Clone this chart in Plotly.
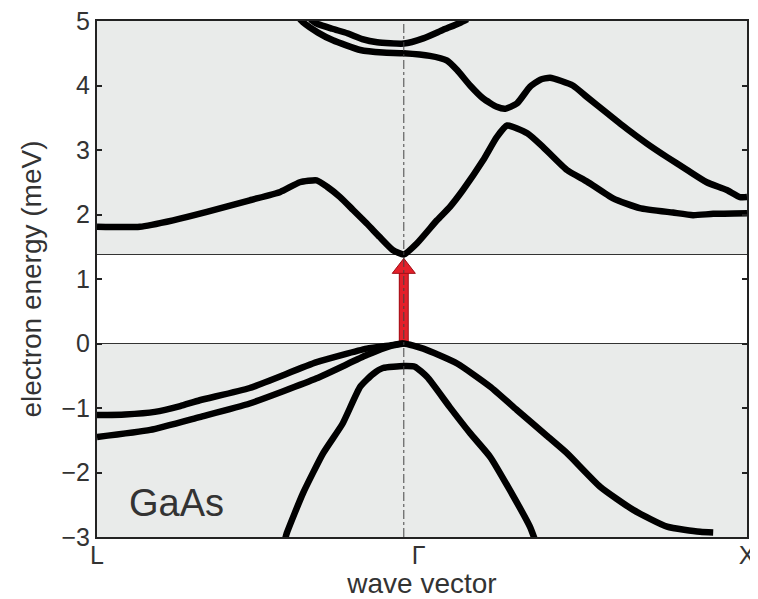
import plotly.graph_objects as go

# ---------------- data ----------------
# k: position along the L -> Gamma -> X path (fraction of the drawn path)
K_GAMMA = 0.472
X_TICKVALS = [0.0, 0.495, 1.0]
X_TICKTEXT = ["L", "\u0393", "X"]
Y_TICKVALS = [-3, -2, -1, 0, 1, 2, 3, 4, 5]
E_GAP = 1.38          # conduction band minimum
E_VBM = 0.0           # valence band maximum
ARROW_TIP = 1.32

c1_k = [0, 0.066, 0.117, 0.169, 0.235, 0.282, 0.312, 0.338, 0.354, 0.374, 0.394, 0.415,
        0.435, 0.455, 0.472, 0.492, 0.523, 0.543, 0.563, 0.594, 0.615, 0.631, 0.662, 0.686,
        0.723, 0.754, 0.794, 0.835, 0.886, 0.917, 0.948, 1.0]
c1_e = [1.81, 1.81, 1.91, 2.04, 2.22, 2.35, 2.50, 2.53, 2.43, 2.27, 2.07, 1.86,
        1.65, 1.45, 1.38, 1.55, 1.91, 2.12, 2.38, 2.84, 3.20, 3.38, 3.26, 3.05,
        2.69, 2.51, 2.25, 2.10, 2.03, 1.99, 2.01, 2.02]

c2_k = [0.312, 0.317, 0.340, 0.363, 0.405, 0.440, 0.472, 0.512, 0.538, 0.554, 0.574, 0.594,
        0.615, 0.628, 0.646, 0.666, 0.682, 0.697, 0.732, 0.754, 0.785, 0.815, 0.846, 0.877,
        0.908, 0.938, 0.969, 0.989, 1.0]
c2_e = [5.03, 4.98, 4.82, 4.70, 4.55, 4.51, 4.50, 4.46, 4.39, 4.24, 4.00, 3.80,
        3.67, 3.64, 3.72, 3.98, 4.09, 4.12, 4.00, 3.82, 3.57, 3.33, 3.10, 2.89,
        2.69, 2.50, 2.38, 2.27, 2.27]

c3_k = [0.328, 0.338, 0.362, 0.385, 0.408, 0.431, 0.472, 0.502, 0.532, 0.558, 0.570]
c3_e = [5.03, 4.96, 4.88, 4.81, 4.72, 4.67, 4.65, 4.73, 4.86, 4.97, 5.03]

hh_k = [0, 0.043, 0.089, 0.128, 0.158, 0.235, 0.338, 0.415, 0.451, 0.472, 0.502, 0.554,
        0.605, 0.646, 0.692, 0.723, 0.774, 0.825, 0.877, 0.928, 0.948]
hh_e = [-1.11, -1.10, -1.06, -0.97, -0.88, -0.69, -0.29, -0.08, -0.03, 0.0, -0.08, -0.31,
        -0.67, -1.03, -1.43, -1.70, -2.22, -2.58, -2.84, -2.92, -2.93]

lh_k = [0, 0.082, 0.158, 0.235, 0.338, 0.415, 0.451, 0.472]
lh_e = [-1.45, -1.34, -1.14, -0.93, -0.54, -0.18, -0.04, 0.0]

so_k = [0.289, 0.292, 0.317, 0.348, 0.378, 0.405, 0.425, 0.440, 0.472, 0.489, 0.508, 0.543,
        0.574, 0.605, 0.635, 0.666, 0.674]
so_e = [-3.05, -2.94, -2.32, -1.70, -1.24, -0.67, -0.47, -0.38, -0.35, -0.36, -0.52, -0.99,
        -1.39, -1.76, -2.27, -2.84, -3.05]

bands = [(c1_k, c1_e), (c2_k, c2_e), (c3_k, c3_e), (hh_k, hh_e), (lh_k, lh_e), (so_k, so_e)]

# ---------------- styling ----------------
FONT = "Liberation Sans, Arial, sans-serif"
TXT = "#333333"
BAND_FILL = "#e9ebea"
Y_MIN, Y_MAX = -3, 5
# the page body adds an 8px offset, so the figure is sized to fit inside it
W, H = 750, 591
M_L, M_R, M_T, M_B = 89, 11, 13, 62
px_per_unit = (H - M_T - M_B) / (Y_MAX - Y_MIN)
HEAD_SIZE = 20
head_center = ARROW_TIP - (HEAD_SIZE / 2) / px_per_unit
head_base = ARROW_TIP - (HEAD_SIZE * 0.75) / px_per_unit

fig = go.Figure()

# red excitation arrow (shaft + head)
fig.add_trace(go.Scatter(x=[K_GAMMA, K_GAMMA], y=[E_VBM, head_base + 0.05], mode="lines",
                         line=dict(color="#a01018", width=10), showlegend=False, hoverinfo="skip"))
fig.add_trace(go.Scatter(x=[K_GAMMA, K_GAMMA], y=[E_VBM, head_base + 0.05], mode="lines",
                         line=dict(color="#e3202a", width=8), showlegend=False, hoverinfo="skip"))
fig.add_trace(go.Scatter(x=[K_GAMMA], y=[head_center], mode="markers",
                         marker=dict(symbol="triangle-up", size=HEAD_SIZE, color="#e3202a",
                                     line=dict(color="#a01018", width=1)),
                         showlegend=False, hoverinfo="skip"))

for k, e in bands:
    fig.add_trace(go.Scatter(x=k, y=e, mode="lines",
                             line=dict(color="black", width=6.5, shape="spline", smoothing=0.5),
                             showlegend=False, hoverinfo="skip"))

shapes = [
    dict(type="rect", xref="x", yref="y", x0=0, x1=1, y0=E_GAP, y1=Y_MAX,
         fillcolor=BAND_FILL, line=dict(width=0), layer="below"),
    dict(type="rect", xref="x", yref="y", x0=0, x1=1, y0=Y_MIN, y1=E_VBM,
         fillcolor=BAND_FILL, line=dict(width=0), layer="below"),
    dict(type="line", xref="x", yref="y", x0=0, x1=1, y0=E_GAP, y1=E_GAP,
         line=dict(color="#333333", width=1.2), layer="below"),
    dict(type="line", xref="x", yref="y", x0=0, x1=1, y0=E_VBM, y1=E_VBM,
         line=dict(color="#333333", width=1.2), layer="below"),
    dict(type="line", xref="x", yref="y", x0=K_GAMMA, x1=K_GAMMA, y0=Y_MIN, y1=Y_MAX,
         line=dict(color="#444444", width=1, dash="dashdot"), layer="above"),
]

fig.update_layout(
    width=W, height=H,
    margin=dict(l=M_L, r=M_R, t=M_T, b=M_B, autoexpand=False),
    paper_bgcolor="white", plot_bgcolor="white",
    font=dict(family=FONT, color=TXT, size=25),
    shapes=shapes,
    annotations=[dict(text="GaAs", x=0.046, y=-2.47, xref="x", yref="y",
                      xanchor="left", yanchor="middle", showarrow=False,
                      font=dict(family=FONT, size=38, color=TXT))],
    xaxis=dict(range=[0, 1], tickvals=X_TICKVALS, ticktext=X_TICKTEXT,
               showgrid=False, zeroline=False, showline=True, mirror=True,
               linecolor="#222222", linewidth=2, ticks="", ticklabelstandoff=-5,
               ticklabeloverflow="allow",
               tickfont=dict(size=25, color=TXT),
               title=dict(text="wave vector", font=dict(size=28, color=TXT), standoff=2)),
    yaxis=dict(range=[Y_MIN, Y_MAX], tickvals=Y_TICKVALS,
               showgrid=False, zeroline=False, showline=True, mirror="ticks",
               linecolor="#222222", linewidth=2, ticks="inside", ticklen=5, tickwidth=1.5,
               ticklabelstandoff=0, ticklabeloverflow="allow",
               tickcolor="#222222", tickfont=dict(size=25, color=TXT),
               title=dict(text="electron energy (meV)", font=dict(size=28, color=TXT), standoff=12)),
)

fig.write_html("out.html")
